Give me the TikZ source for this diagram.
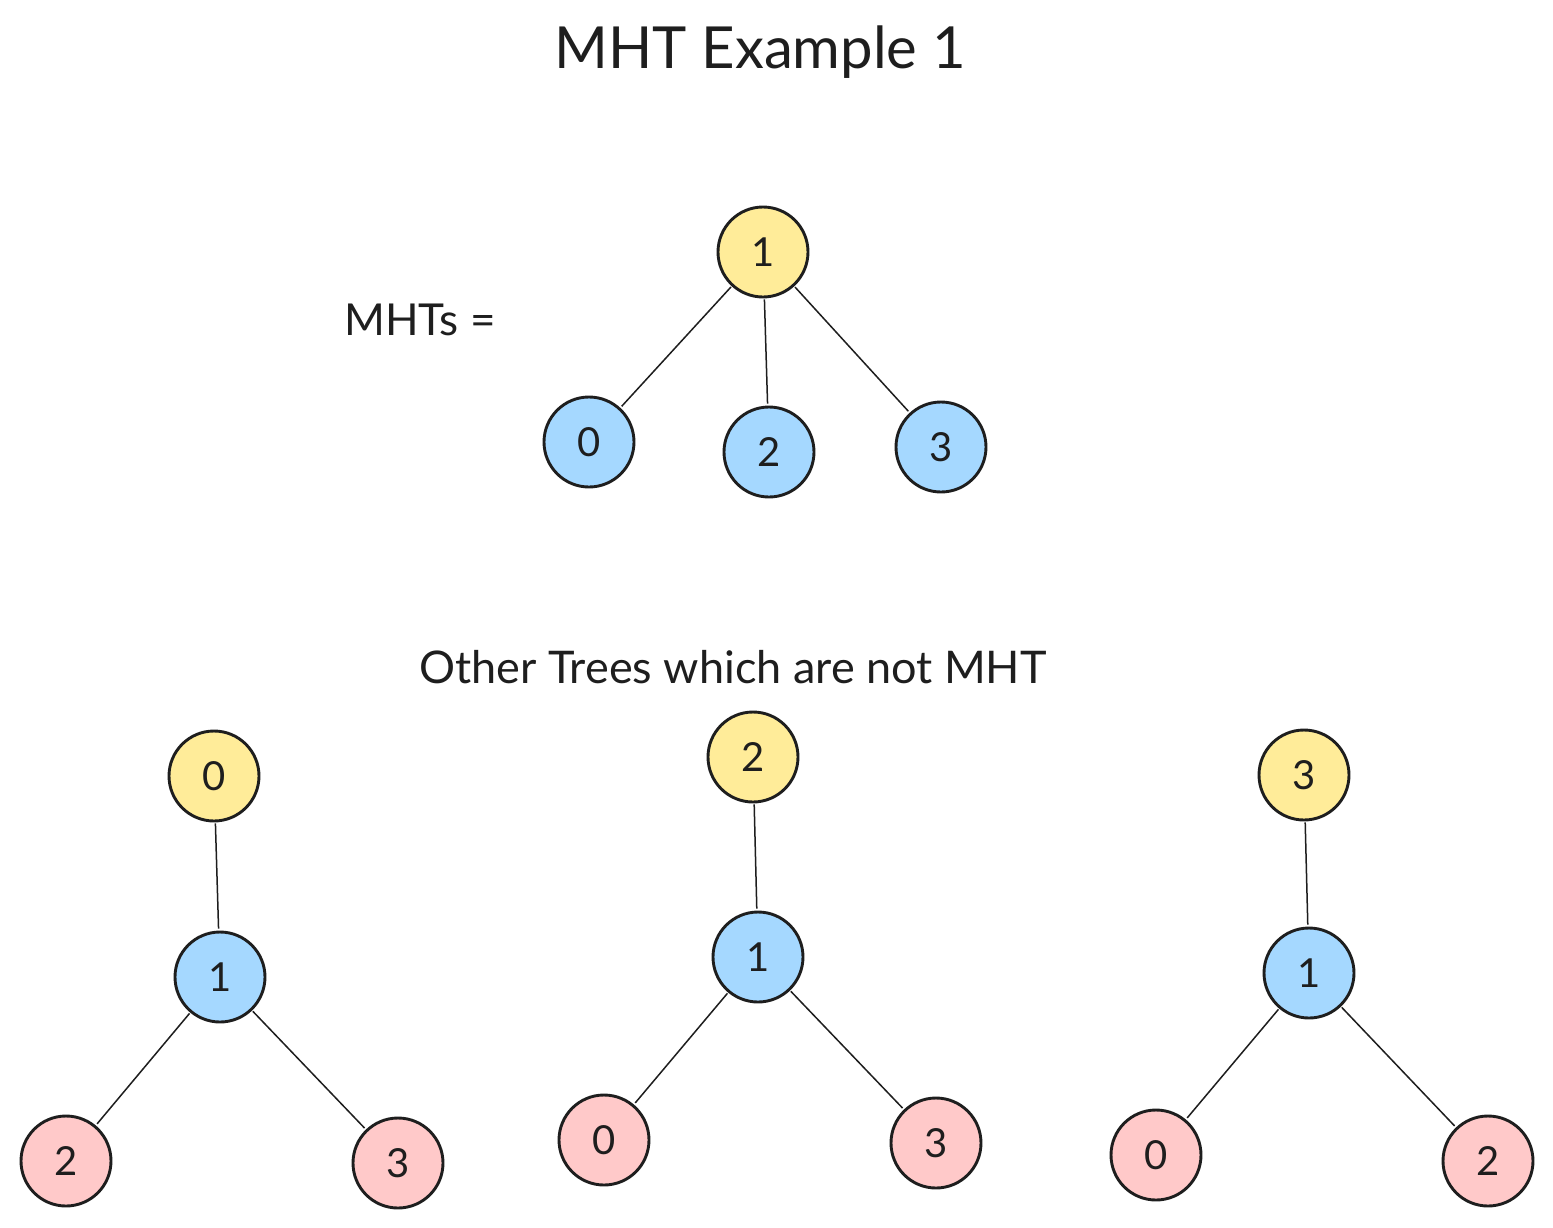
\documentclass[tikz,border=0pt]{standalone}
\usepackage{fontspec}
\setmainfont{Lato}
\definecolor{ink}{HTML}{1E1E1E}
\definecolor{yel}{HTML}{FFEC99}
\definecolor{blu}{HTML}{A5D8FF}
\definecolor{pnk}{HTML}{FFC9C9}
\tikzset{
  vtx/.style={circle, draw=ink, line width=2.9pt, minimum size=90pt, inner sep=0pt, text=ink,
    font=\fontsize{40}{40}\selectfont},
  rootv/.style={vtx, fill=yel},
  midv/.style={vtx, fill=blu},
  leafv/.style={vtx, fill=pnk},
  edge/.style={draw=ink, line width=1.5pt, shorten <=1pt, shorten >=2pt},
  lbl/.style={text=ink, inner sep=0pt}
}
\begin{document}
\begin{tikzpicture}[x=1pt,y=-1pt]
\useasboundingbox[fill=white] (0,0) rectangle (1553,1227);
% title
\node[lbl, font=\fontsize{58}{58}\selectfont] (title) at (760,52) {MHT Example 1};
\node[lbl, font=\fontsize{44}{44}\selectfont] (mhts) at (420,320) {MHTs =};
\node[lbl, font=\fontsize{45}{45}\selectfont] (other) at (733,667) {Other Trees which are not MHT};
% top tree
\node[rootv] (t1) at (763,252) {1};
\node[midv] (t0) at (589,442) {0};
\node[midv] (t2) at (769,452) {2};
\node[midv] (t3) at (941,447) {3};
\draw[edge] (t1) -- (t0);
\draw[edge] (t1) -- (t2);
\draw[edge] (t1) -- (t3);
% left tree
\node[rootv] (a0) at (214,776) {0};
\node[midv] (a1) at (220,977) {1};
\node[leafv] (a2) at (66,1161) {2};
\node[leafv] (a3) at (398,1163) {3};
\draw[edge] (a0) -- (a1);
\draw[edge] (a1) -- (a2);
\draw[edge] (a1) -- (a3);
% middle tree
\node[rootv] (b2) at (753,757) {2};
\node[midv] (b1) at (758,957) {1};
\node[leafv] (b0) at (604,1140) {0};
\node[leafv] (b3) at (936,1143) {3};
\draw[edge] (b2) -- (b1);
\draw[edge] (b1) -- (b0);
\draw[edge] (b1) -- (b3);
% right tree
\node[rootv] (c3) at (1304,775) {3};
\node[midv] (c1) at (1309,973) {1};
\node[leafv] (c0) at (1156,1155) {0};
\node[leafv] (c2) at (1488,1161) {2};
\draw[edge] (c3) -- (c1);
\draw[edge] (c1) -- (c0);
\draw[edge] (c1) -- (c2);
\end{tikzpicture}
\end{document}
